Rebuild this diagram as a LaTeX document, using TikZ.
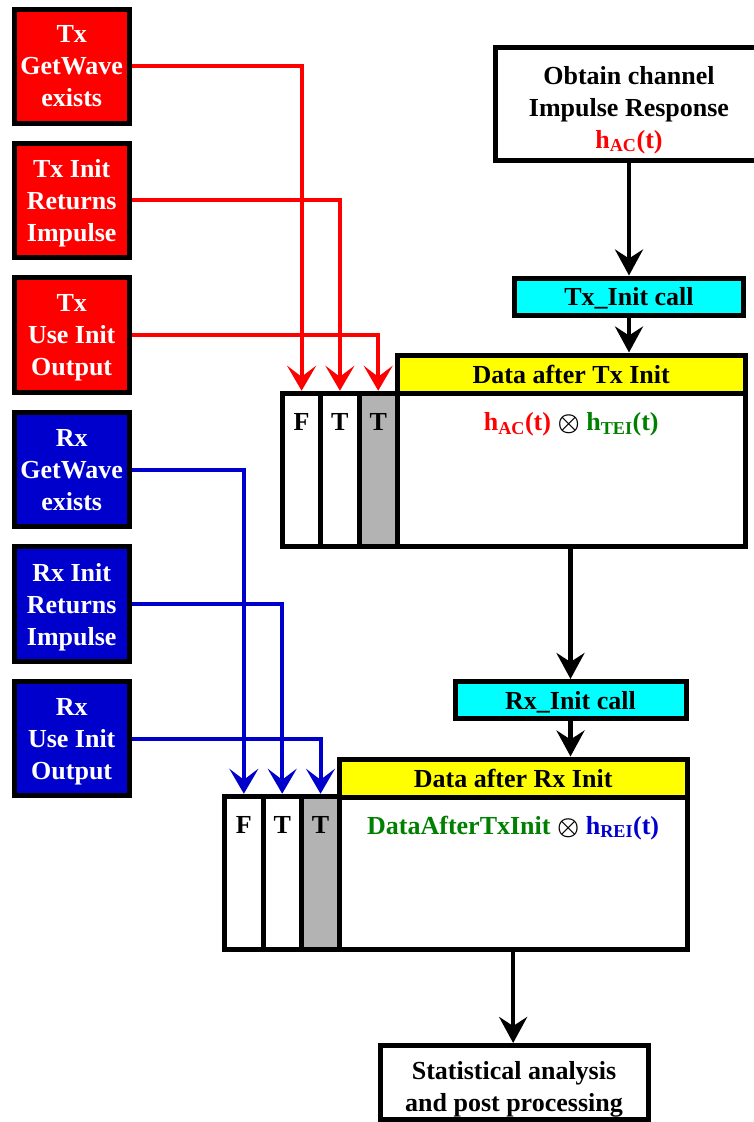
\documentclass[tikz,border=0pt]{standalone}
\usepackage{fontspec}
\setmainfont{Liberation Serif}
\usetikzlibrary{arrows.meta,positioning}

\definecolor{sigred}{RGB}{255,0,0}
\definecolor{sigblue}{RGB}{0,0,204}
\definecolor{termgreen}{RGB}{0,128,0}
\definecolor{bargray}{RGB}{179,179,179}
\definecolor{headyellow}{RGB}{255,255,0}
\definecolor{callcyan}{RGB}{0,255,255}

\begin{document}
\begin{tikzpicture}[x=1pt, y=-1pt,
  font=\fontsize{26}{32}\selectfont\bfseries,
  flag/.style={draw, line width=5pt, minimum width=115pt, minimum height=114.5pt,
    align=center, text=white, inner sep=0pt, text depth=0pt,
    execute at begin node={\rule{0pt}{23pt}}},
  box/.style={draw, line width=5pt, fill=white, align=center, inner sep=0pt},
  bar/.style={draw, line width=5pt, minimum width=38.3pt, minimum height=153pt, inner sep=0pt},
  head/.style={box, fill=headyellow, minimum width=347.7pt, minimum height=38pt},
  call/.style={box, fill=callcyan, minimum height=37pt, text depth=0pt},
  flow/.style={line width=4.5pt, -{Stealth[length=26pt,width=28pt,inset=9pt]}},
  sig/.style={line width=4pt, -{Stealth[length=25pt,width=29pt,inset=11pt]}}]
  \useasboundingbox (0,0) rectangle (754,1122);

  % Tx switches
  \node[flag, fill=sigred] (txgw) at (71.7,66.3) {Tx\\GetWave\\exists};
  \node[flag, fill=sigred] (txret) at (71.7,200.3) {Tx Init\\Returns\\Impulse};
  \node[flag, fill=sigred] (txuse) at (71.7,335) {Tx\\Use Init\\Output};

  % Rx switches
  \node[flag, fill=sigblue] (rxgw) at (71.7,469.5) {Rx\\GetWave\\exists};
  \node[flag, fill=sigblue] (rxret) at (71.7,604) {Rx Init\\Returns\\Impulse};
  \node[flag, fill=sigblue] (rxuse) at (71.7,738.5) {Rx\\Use Init\\Output};

  % Channel and Tx init call
  \node[box, minimum width=268pt, minimum height=113pt, text depth=0pt] (chan) at (629,104)
    {\rule{0pt}{24pt}Obtain channel\\Impulse Response\\\textcolor{sigred}{h\textsubscript{AC}(t)}};
  \node[call, minimum width=229pt] (txcall) at (629,296.5) {Tx\_Init call};

  % Data after Tx Init
  \node[bar] (txF) at (301.6,469.75) {};
  \node[bar] (txT) at (339.9,469.75) {};
  \node[bar, fill=bargray] (txU) at (378.2,469.75) {};
  \node[box, minimum width=347.7pt, minimum height=153pt] (txdata) at (571.2,469.75) {};
  \node[head] (txhead) at (571.2,374) {Data after Tx Init};
  \node[anchor=base] (txFl) at ([yshift=-40pt]txF.north) {F};
  \node[anchor=base] (txTl) at ([yshift=-40pt]txT.north) {T};
  \node[anchor=base] (txUl) at ([yshift=-40pt]txU.north) {T};
  \node[anchor=base] (txconv) at ([yshift=-40pt]txdata.north)
    {\textcolor{sigred}{h\textsubscript{AC}(t)} {\boldmath$\otimes$} \textcolor{termgreen}{h\textsubscript{TEI}(t)}};

  % Rx init call
  \node[call, minimum width=231pt] (rxcall) at (570.5,700) {Rx\_Init call};

  % Data after Rx Init
  \node[bar] (rxF) at (243.85,872.75) {};
  \node[bar] (rxT) at (282.2,872.75) {};
  \node[bar, fill=bargray] (rxU) at (320.5,872.75) {};
  \node[box, minimum width=347.7pt, minimum height=152.5pt] (rxdata) at (513.15,872.75) {};
  \node[head] (rxhead) at (513.15,778) {Data after Rx Init};
  \node[anchor=base] (rxFl) at ([yshift=-40pt]rxF.north) {F};
  \node[anchor=base] (rxTl) at ([yshift=-40pt]rxT.north) {T};
  \node[anchor=base] (rxUl) at ([yshift=-40pt]rxU.north) {T};
  \node[anchor=base] (rxconv) at ([yshift=-40pt]rxdata.north)
    {\textcolor{termgreen}{DataAfterTxInit} {\boldmath$\otimes$} \textcolor{sigblue}{h\textsubscript{REI}(t)}};

  % Post processing
  \node[box, minimum width=268pt, minimum height=74pt, text depth=0pt] (stat) at (514,1082.5)
    {\rule{0pt}{26pt}Statistical analysis\\and post processing};

  % Switch lines
  \draw[sig, sigred] (txgw.east) -| (txF.north);
  \draw[sig, sigred] (txret.east) -| (txT.north);
  \draw[sig, sigred] (txuse.east) -| (txU.north);
  \draw[sig, sigblue] (rxgw.east) -| (rxF.north);
  \draw[sig, sigblue] (rxret.east) -| (rxT.north);
  \draw[sig, sigblue] (rxuse.east) -| (rxU.north);

  % Main flow
  \draw[flow] (txcall.north |- chan.south) -- (txcall.north);
  \draw[flow] (txcall.south) -- (txcall.south |- txhead.north);
  \draw[flow] (rxcall.north |- txdata.south) -- (rxcall.north);
  \draw[flow] (rxcall.south) -- (rxcall.south |- rxhead.north);
  \draw[flow] (rxdata.south) -- (rxdata.south |- stat.north);
\end{tikzpicture}
\end{document}
